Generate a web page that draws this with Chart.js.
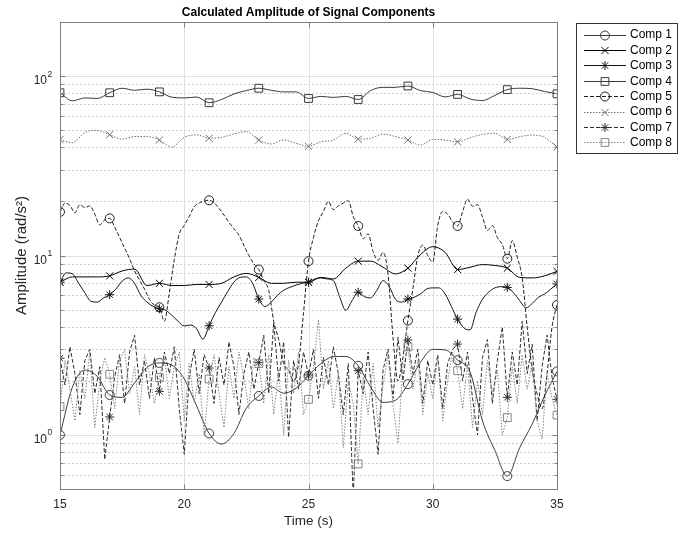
<!DOCTYPE html>
<html>
<head>
<meta charset="utf-8">
<script src="https://cdn.jsdelivr.net/npm/chart.js@4/dist/chart.umd.min.js"></script>
<style>
  html, body { margin: 0; padding: 0; background: #fff; }
  #wrap { width: 692px; height: 534px; }
</style>
</head>
<body>
<div id="wrap"><canvas id="c" width="692" height="534"></canvas></div>
<script>
// ---- time bases (s) ----
const tHalf = [15,15.5,16,16.5,17,17.5,18,18.5,19,19.5,20,20.5,21,21.5,22,22.5,23,23.5,24,24.5,25,25.5,26,26.5,27,27.5,28,28.5,29,29.5,30,30.5,31,31.5,32,32.5,33,33.5,34,34.5,35];
const tQuarter = [15,15.25,15.5,15.75,16,16.25,16.5,16.75,17,17.25,17.5,17.75,18,18.25,18.5,18.75,19,19.25,19.5,19.75,20,20.25,20.5,20.75,21,21.25,21.5,21.75,22,22.25,22.5,22.75,23,23.25,23.5,23.75,24,24.25,24.5,24.75,25,25.25,25.5,25.75,26,26.25,26.5,26.75,27,27.25,27.5,27.75,28,28.25,28.5,28.75,29,29.25,29.5,29.75,30,30.25,30.5,30.75,31,31.25,31.5,31.75,32,32.25,32.5,32.75,33,33.25,33.5,33.75,34,34.25,34.5,34.75,35];
const tFifth = [15,15.2,15.4,15.6,15.8,16,16.2,16.4,16.6,16.8,17,17.2,17.4,17.6,17.8,18,18.2,18.4,18.6,18.8,19,19.2,19.4,19.6,19.8,20,20.2,20.4,20.6,20.8,21,21.2,21.4,21.6,21.8,22,22.2,22.4,22.6,22.8,23,23.2,23.4,23.6,23.8,24,24.2,24.4,24.6,24.8,25,25.2,25.4,25.6,25.8,26,26.2,26.4,26.6,26.8,27,27.2,27.4,27.6,27.8,28,28.2,28.4,28.6,28.8,29,29.2,29.4,29.6,29.8,30,30.2,30.4,30.6,30.8,31,31.2,31.4,31.6,31.8,32,32.2,32.4,32.6,32.8,33,33.2,33.4,33.6,33.8,34,34.2,34.4,34.6,34.8,35];

// instants that carry a marker
const markerTimes = [15,17,19,21,23,25,27,29,31,33,35];

// ---- amplitudes (rad/s^2) ----
const comp1 = [1.0,1.85,2.30,2.12,1.67,1.62,1.95,2.38,2.52,2.45,2.05,1.45,1.02,0.89,1.02,1.41,1.65,1.85,1.71,1.82,2.14,2.50,2.73,2.74,2.43,1.85,1.52,1.56,1.92,2.53,3.0,2.98,2.61,2.25,1.20,0.82,0.59,0.85,1.15,1.65,2.26];
const comp2 = [7.1,7.6,7.6,7.6,7.7,8.2,8.4,6.8,7.0,6.8,6.8,6.9,6.9,7.0,7.6,7.95,7.55,7.0,7.0,7.1,7.1,7.55,7.4,8.5,9.3,9.3,8.6,7.9,8.5,10.1,11.2,10.4,8.35,8.6,8.9,8.8,8.5,7.55,7.5,7.7,8.16];
const comp3 = [7.1,8.0,7.9,7.0,6.2,5.55,5.5,5.8,6.05,6.5,
  7.2,7.5,7.0,6.0,5.5,5.2,5.05,4.95,4.65,4.3,
  4.05,4.1,3.9,3.42,4.06,4.8,5.5,6.3,7.1,7.55,
  7.6,7.0,5.72,5.2,5.5,6.0,6.4,6.65,6.85,7.0,
  7.1,7.4,7.5,7.4,7.25,5.9,4.95,5.6,6.24,5.9,
  5.8,6.4,7.25,6.7,5.7,5.5,5.72,5.85,6.1,6.5,
  6.6,6.6,6.1,5.2,4.42,3.95,3.85,4.85,5.7,6.25,
  6.6,6.7,6.64,6.2,5.6,5.1,5.4,5.85,6.1,6.5,
  6.95];
const comp4 = [80.7,72.8,75.5,75,80.7,85.5,83.3,84.5,81.6,76.2,75.5,76.4,71,74,79.5,83,85.5,83.3,81.6,81.6,75,77,76,77,74,83,86.5,86.5,88,83,81,76.5,79,74.5,73,78,84,85.5,85,82,79.6];
const comp5 = [17.5,19.6,19.0,17.3,19.2,18.5,18.9,17.0,14.8,15.8,
  16.1,14.4,12.6,11.0,9.6,8.2,7.3,6.5,5.7,5.3,
  5.15,4.3,6.2,9.5,13.2,14.7,16.5,18.7,19.6,20.1,
  20.3,19.7,18.3,16.8,15.3,14.1,13.0,11.4,10.0,9.0,
  8.35,7.25,6.4,4.3,3.4,2.5,2.3,2.0,2.5,4.8,
  9.3,12.6,15.6,17.6,20.0,18.0,18.9,19.6,20.2,16.5,
  14.6,12.4,13.2,10.5,9.4,10.4,7.9,3.5,2.0,2.7,
  4.34,6.5,10.0,11.4,10.0,9.2,14.7,17.6,17.0,15.4,
  14.6,17.5,20.6,18.8,19.2,16.4,13.8,14.7,12.6,11.5,
  9.6,12.1,9.8,7.5,4.0,2.3,1.7,1.4,2.2,4.0,
  5.3];
const comp6 = [44.3,42.5,48.5,49.8,47.1,44.5,46,46,44,40.2,45.5,47,45,45.5,47.6,49,44,41.8,44,42.2,40.6,43,44,48,44.5,45,47.5,46,44,41.2,44.3,44,43,45.3,47.3,48,44.3,45.9,46.9,45.5,40.2];
const comp7 = [2.68,1.9,3.1,2.2,1.3,2.6,3.0,1.7,2.4,0.73,
  1.26,2.1,2.8,1.5,2.9,3.6,1.9,2.6,1.6,2.7,
  1.75,2.9,2.2,3.1,1.4,0.78,2.1,3.0,1.7,2.8,
  2.36,1.5,2.7,1.9,3.3,2.4,1.3,2.2,2.9,1.8,
  2.53,3.6,1.7,4.2,2.0,3.3,0.97,2.6,1.8,2.9,
  2.16,3.0,1.6,2.7,1.9,3.1,2.2,1.3,2.5,0.45,
  2.28,1.7,2.9,1.4,0.78,2.3,3.0,1.6,3.5,2.0,
  3.38,2.2,3.0,1.5,2.6,1.9,2.8,1.4,2.5,3.0,
  3.21,2.0,2.9,1.6,1.0,2.7,3.4,1.5,2.6,4.0,
  1.62,2.9,1.9,4.3,2.2,3.2,1.2,2.4,3.6,2.1,
  1.58];
const comp8 = [1.44,2.6,1.8,1.2,2.3,1.6,2.9,1.1,2.0,2.7,
  2.18,1.4,2.6,3.0,1.7,2.4,1.3,2.8,2.2,1.5,
  2.09,2.7,1.6,2.4,2.9,1.2,2.5,1.5,2.2,1.0,
  2.05,2.8,1.7,1.1,2.4,1.6,2.9,2.1,1.4,2.7,
  2.5,1.5,2.8,1.3,2.3,1.0,2.6,1.7,2.9,1.3,
  1.58,2.4,4.4,1.8,2.6,1.4,2.2,0.85,2.0,1.5,
  0.69,2.1,1.3,2.5,1.1,1.9,2.8,1.5,0.9,2.4,
  3.1,1.8,2.6,1.3,2.2,1.6,2.7,1.2,2.0,2.9,
  2.28,1.4,2.5,1.1,2.0,1.3,2.6,1.7,2.3,1.0,
  1.25,2.4,1.5,2.8,1.8,2.5,1.2,0.95,2.2,1.6,
  1.29];

// ---- labels and ticks ----
const seriesNames = ['Comp 1','Comp 2','Comp 3','Comp 4','Comp 5','Comp 6','Comp 7','Comp 8'];
const xTickValues = [15,20,25,30,35];
const yDecadeValues = [1,10,100];
const yDecadeExponents = ['0','1','2'];
const yMinorValues = [0.6,0.7,0.8,0.9,2,3,4,5,6,7,8,9,20,30,40,50,60,70,80,90];
const titleText = 'Calculated Amplitude of Signal Components';
const xTitleText = 'Time (s)';
const yTitleText = 'Amplitude (rad/s\u00B2)';

const FONT = '"Liberation Sans", Arial, Helvetica, sans-serif';

const styles = [
  { color: '#3c3c3c', dash: [],        marker: 'circle',   size: 4.5, smooth: true  },
  { color: '#000000', dash: [],        marker: 'crossRot', size: 5,   smooth: true  },
  { color: '#141414', dash: [],        marker: 'star',     size: 4.5, smooth: true  },
  { color: '#3a3a3a', dash: [],        marker: 'rect',     size: 5.5, smooth: true  },
  { color: '#1f1f1f', dash: [4, 2],    marker: 'circle',   size: 4.5, smooth: true  },
  { color: '#6e6e6e', dash: [1.5, 1.5],marker: 'crossRot', size: 5,   smooth: true  },
  { color: '#2e2e2e', dash: [4, 2],    marker: 'star',     size: 4.5, smooth: false },
  { color: '#858585', dash: [1.5, 1.5],marker: 'rect',     size: 5.5, smooth: false }
];
const seriesTimes = [tHalf, tHalf, tQuarter, tHalf, tFifth, tHalf, tFifth, tFifth];
const seriesValues = [comp1, comp2, comp3, comp4, comp5, comp6, comp7, comp8];

const datasets = seriesNames.map((name, k) => {
  const s = styles[k];
  return {
    label: name,
    data: seriesTimes[k].map((t, i) => ({ x: t, y: seriesValues[k][i] })),
    borderColor: s.color,
    borderWidth: 1,
    borderDash: s.dash,
    fill: false,
    tension: s.smooth ? 0.4 : 0,
    cubicInterpolationMode: s.smooth ? 'monotone' : 'default',
    pointStyle: s.marker,
    pointRadius: ctx => (ctx.raw && markerTimes.includes(ctx.raw.x)) ? s.size : 0,
    pointHoverRadius: 0,
    pointBorderColor: s.color,
    pointBackgroundColor: 'rgba(0,0,0,0)',
    pointBorderWidth: 1,
    order: 8 - k
  };
});

function hLine(ctx, x1, x2, y) { ctx.beginPath(); ctx.moveTo(x1, y); ctx.lineTo(x2, y); ctx.stroke(); }
function vLine(ctx, x, y1, y2) { ctx.beginPath(); ctx.moveTo(x, y1); ctx.lineTo(x, y2); ctx.stroke(); }

const axesDecor = {
  id: 'axesDecor',
  beforeDatasetsDraw(chart) {
    const { ctx, chartArea: a, scales: { x, y } } = chart;
    ctx.save();
    ctx.lineWidth = 1;
    // minor grid (dotted)
    ctx.strokeStyle = '#d0d0d0';
    ctx.setLineDash([2, 2]);
    yMinorValues.forEach(v => hLine(ctx, a.left, a.right, Math.round(y.getPixelForValue(v)) + 0.5));
    // major grid
    ctx.setLineDash([]);
    ctx.strokeStyle = '#e0e0e0';
    yDecadeValues.forEach(v => hLine(ctx, a.left, a.right, Math.round(y.getPixelForValue(v)) + 0.5));
    xTickValues.forEach(v => vLine(ctx, Math.round(x.getPixelForValue(v)) + 0.5, a.top, a.bottom));
    ctx.restore();
  },
  afterDraw(chart) {
    const { ctx, chartArea: a, scales: { x, y } } = chart;
    const L = Math.round(a.left) + 0.5, R = Math.round(a.right) + 0.5;
    const T = Math.round(a.top) + 0.5, B = Math.round(a.bottom) + 0.5;
    ctx.save();
    // axes box and inner tick marks
    ctx.strokeStyle = '#7d7d7d';
    ctx.lineWidth = 1;
    ctx.strokeRect(L, T, R - L, B - T);
    yDecadeValues.forEach(v => {
      const py = Math.round(y.getPixelForValue(v)) + 0.5;
      hLine(ctx, L, L + 5, py); hLine(ctx, R - 5, R, py);
    });
    yMinorValues.forEach(v => {
      const py = Math.round(y.getPixelForValue(v)) + 0.5;
      hLine(ctx, L, L + 3, py); hLine(ctx, R - 3, R, py);
    });
    xTickValues.forEach(v => {
      const px = Math.round(x.getPixelForValue(v)) + 0.5;
      vLine(ctx, px, B - 5, B); vLine(ctx, px, T, T + 5);
    });

    // tick labels
    ctx.fillStyle = '#262626';
    ctx.font = '12px ' + FONT;
    ctx.textAlign = 'center';
    ctx.textBaseline = 'alphabetic';
    xTickValues.forEach(v => ctx.fillText(String(v), x.getPixelForValue(v), a.bottom + 19));
    yDecadeValues.forEach((v, i) => {
      const py = y.getPixelForValue(v);
      ctx.font = '12px ' + FONT;
      ctx.textAlign = 'right';
      ctx.fillText('10', a.left - 13, py + 8);
      ctx.font = '8.5px ' + FONT;
      ctx.textAlign = 'left';
      ctx.fillText(yDecadeExponents[i], a.left - 12.5, py + 0.5);
    });

    // axis titles
    ctx.font = '13.5px ' + FONT;
    ctx.textAlign = 'center';
    ctx.fillText(xTitleText, (a.left + a.right) / 2, a.bottom + 36);
    ctx.save();
    ctx.translate(22, (a.top + a.bottom) / 2);
    ctx.rotate(-Math.PI / 2);
    ctx.textBaseline = 'middle';
    ctx.font = '15px ' + FONT;
    ctx.fillText(yTitleText, 0, 0);
    ctx.restore();

    // title
    ctx.fillStyle = '#000';
    ctx.font = 'bold 12px ' + FONT;
    ctx.textAlign = 'center';
    ctx.textBaseline = 'alphabetic';
    ctx.fillText(titleText, (a.left + a.right) / 2, 16);

    // legend
    const bx = 576.5, by = 23.5, bw = 101, bh = 130;
    ctx.fillStyle = '#fff';
    ctx.fillRect(bx, by, bw, bh);
    ctx.strokeStyle = '#333';
    ctx.strokeRect(bx, by, bw, bh);
    chart.data.datasets.forEach((ds, k) => {
      const s = styles[k];
      const cy = 34.5 + k * 15.4;
      ctx.strokeStyle = s.color;
      ctx.lineWidth = 1;
      ctx.setLineDash(s.dash);
      hLine(ctx, 584, 626, Math.round(cy) + 0.5);
      ctx.setLineDash([]);
      ctx.fillStyle = 'rgba(0,0,0,0)';
      Chart.helpers.drawPoint(ctx, { pointStyle: s.marker, radius: s.size, rotation: 0, borderWidth: 1 }, 605, Math.round(cy) + 0.5);
      ctx.fillStyle = '#000';
      ctx.font = '12px ' + FONT;
      ctx.textAlign = 'left';
      ctx.textBaseline = 'middle';
      ctx.fillText(ds.label, 630, cy + 0.5);
    });
    ctx.restore();
  }
};

new Chart(document.getElementById('c'), {
  type: 'line',
  data: { datasets },
  options: {
    responsive: false,
    animation: false,
    devicePixelRatio: 1,
    layout: { padding: { top: 22, right: 135, bottom: 0, left: 0 } },
    plugins: { legend: { display: false }, tooltip: { enabled: false }, title: { display: false } },
    scales: {
      x: {
        type: 'linear', min: 15, max: 35,
        grid: { display: false }, border: { display: false }, ticks: { display: false },
        afterFit(s) { s.height = 45; }
      },
      y: {
        type: 'logarithmic', min: 0.5, max: 200,
        grid: { display: false }, border: { display: false }, ticks: { display: false },
        afterFit(s) { s.width = 60; }
      }
    }
  },
  plugins: [axesDecor]
});
</script>
</body>
</html>
